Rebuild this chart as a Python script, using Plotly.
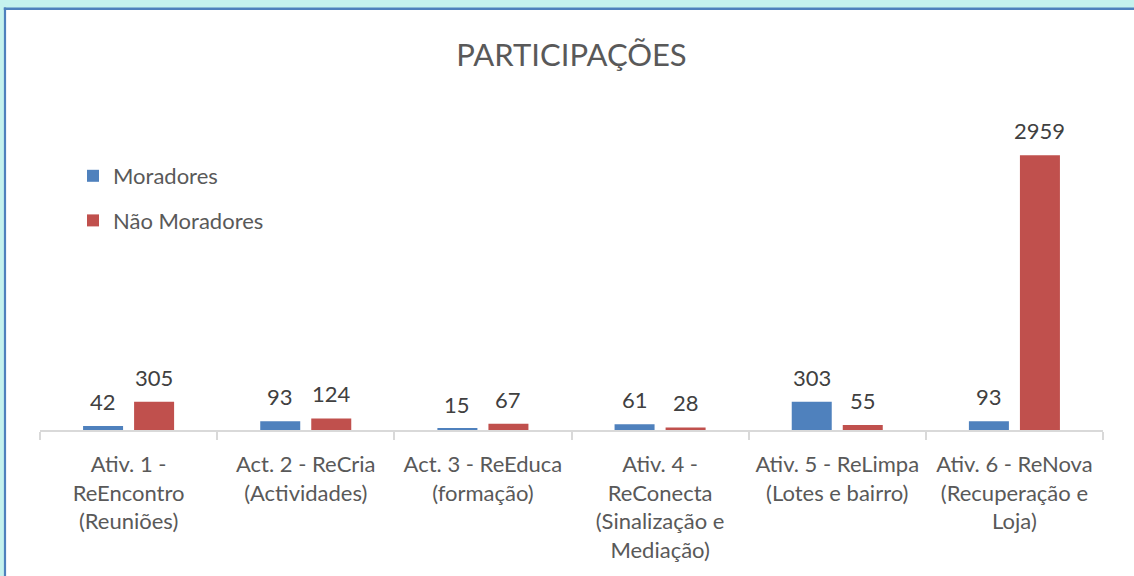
import plotly.graph_objects as go

categories = [
    "Ativ. 1 -<br>ReEncontro<br>(Reuniões)",
    "Act. 2 - ReCria<br>(Actividades)",
    "Act. 3 - ReEduca<br>(formação)",
    "Ativ. 4 -<br>ReConecta<br>(Sinalização e<br>Mediação)",
    "Ativ. 5 - ReLimpa<br>(Lotes e bairro)",
    "Ativ. 6 - ReNova<br>(Recuperação e<br>Loja)",
]
moradores = [42, 93, 15, 61, 303, 93]
nao_moradores = [305, 124, 67, 28, 55, 2959]

BLUE = "#4f81bd"
RED = "#c0504d"
FONT = "Lato"

W, H = 1134, 576
L, R, T, B = 40, 31, 105, 146
plot_w = W - L - R
plot_h = H - T - B

def px_x(p):
    return (p - L) / plot_w

def px_y(p):
    return (H - B - p) / plot_h

fig = go.Figure()
fig.add_trace(go.Bar(name="Moradores", x=categories, y=moradores,
                     marker=dict(color=BLUE, line=dict(width=0)),
                     legendgroup="a"))
fig.add_trace(go.Bar(name="Não Moradores", x=categories, y=nao_moradores,
                     marker=dict(color=RED, line=dict(width=0)),
                     legendgroup="b"))

annotations = []
for vals, shift in ((moradores, -25.5), (nao_moradores, 25.5)):
    for c, v in zip(categories, vals):
        annotations.append(dict(x=c, y=v, xref="x", yref="y", text=str(v),
                                showarrow=False, xshift=shift, yshift=9,
                                yanchor="bottom",
                                font=dict(family=FONT, size=22, color="#404040")))

frame = [
    dict(type="rect", xref="paper", yref="paper", layer="below",
         x0=px_x(5), x1=px_x(1300), y0=px_y(8.7), y1=px_y(700),
         fillcolor="white", line=dict(width=0)),
    dict(type="line", xref="paper", yref="paper", layer="below",
         x0=px_x(3.8), x1=px_x(1300), y0=px_y(8.7), y1=px_y(8.7),
         line=dict(color=BLUE, width=2.6)),
    dict(type="line", xref="paper", yref="paper", layer="below",
         x0=px_x(5), x1=px_x(5), y0=px_y(7.4), y1=px_y(700),
         line=dict(color=BLUE, width=2.2)),
]

fig.update_layout(
    width=W, height=H,
    margin=dict(l=L, r=R, t=T, b=B, pad=0),
    paper_bgcolor="#c5f2ee",
    plot_bgcolor="rgba(0,0,0,0)",
    barmode="group", bargap=0.424, bargroupgap=0.216,
    title=dict(text="PARTICIPAÇÕES", x=0.5, xref="paper", y=1 - 55 / H,
               yanchor="middle", xanchor="center",
               font=dict(family=FONT, size=31, color="#595959")),
    showlegend=True,
    legend=dict(x=px_x(73), y=px_y(155), xanchor="left", yanchor="top",
                traceorder="grouped", tracegroupgap=13,
                font=dict(family=FONT, size=22, color="#595959"),
                bgcolor="rgba(0,0,0,0)"),
    xaxis=dict(type="category", range=[-0.5, 5.5], showgrid=False,
               showline=True, linecolor="#d9d9d9", linewidth=1.5,
               ticks="outside", tickson="boundaries", ticklen=8,
               tickcolor="#d9d9d9", tickwidth=1.5,
               tickfont=dict(family=FONT, size=22, color="#595959"),
               ticklabelstandoff=14, fixedrange=True),
    yaxis=dict(range=[0, 3500], visible=False, showgrid=False,
               zeroline=False, fixedrange=True),
    annotations=annotations,
    shapes=frame,
)

fig.write_html("out.html",
               config={"displayModeBar": False},
               post_script="document.body.style.margin='0';document.body.style.overflow='hidden';")
